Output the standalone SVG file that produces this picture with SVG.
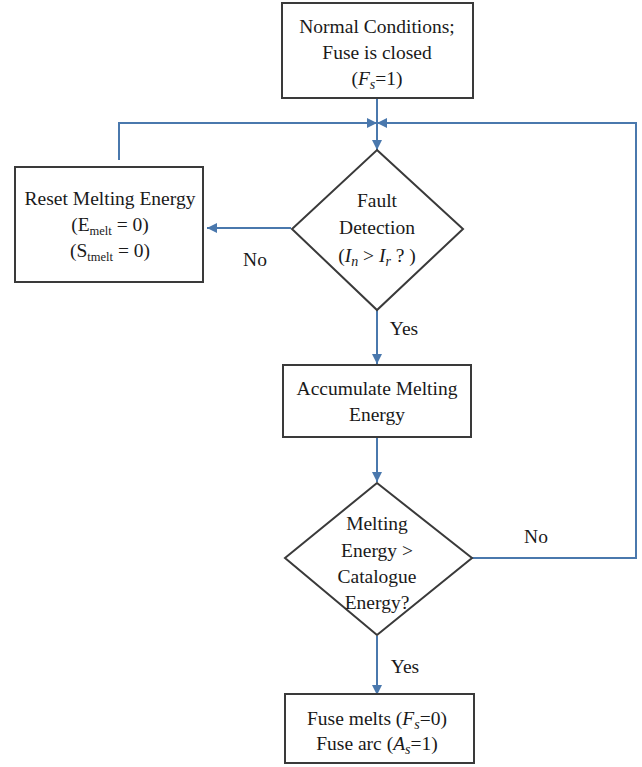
<svg xmlns="http://www.w3.org/2000/svg" width="642" height="767" viewBox="0 0 642 767">
<style>
.box{fill:#fff;stroke:#3a3a3a;stroke-width:2}
.ln{fill:none;stroke:#4a78ad;stroke-width:2}
text{font-family:"Liberation Serif","Times New Roman",serif;font-size:19.5px;fill:#1a1a1a;text-anchor:middle}
.sub{font-size:12.5px}
.isub{font-size:14px;font-style:italic}
.it{font-style:italic}
</style>
<defs>
<marker id="ah" viewBox="0 0 10 10" refX="10" refY="5" markerWidth="5" markerHeight="5" orient="auto" markerUnits="strokeWidth">
<path d="M0,0 L10,5 L0,10 z" fill="#4a78ad"/>
</marker>
</defs>
<rect width="642" height="767" fill="#fff"/>
<g id="connectors">
<path class="ln" d="M377,98 V150" marker-end="url(#ah)"/>
<path class="ln" d="M119,160 V123 H377" marker-end="url(#ah)"/>
<path class="ln" d="M472,558 H636 V123 H377" marker-end="url(#ah)"/>
<path class="ln" d="M291,228 H207" marker-end="url(#ah)"/>
<path class="ln" d="M377,310 V364" marker-end="url(#ah)"/>
<path class="ln" d="M377,437 V482" marker-end="url(#ah)"/>
<path class="ln" d="M377,636 V695" marker-end="url(#ah)"/>
<text x="255" y="266">No</text>
<text x="404" y="335">Yes</text>
<text x="536" y="543">No</text>
<text x="405" y="673">Yes</text>
</g>
<g id="start">
<rect class="box" x="282" y="3" width="191" height="95"/>
<text x="377" y="33">Normal Conditions;</text>
<text x="377" y="59">Fuse is closed</text>
<text x="377" y="85">(<tspan class="it">F</tspan><tspan class="isub" dy="4">s</tspan><tspan dy="-4">=1)</tspan></text>
</g>
<g id="reset">
<rect class="box" x="15" y="167" width="188" height="115"/>
<text x="110" y="205">Reset Melting Energy</text>
<text x="110" y="231">(E<tspan class="sub" dy="4">melt</tspan><tspan dy="-4"> = 0)</tspan></text>
<text x="110" y="257">(S<tspan class="sub" dy="4">tmelt</tspan><tspan dy="-4"> = 0)</tspan></text>
</g>
<g id="fault">
<polygon class="box" points="377,150 463,229 377,310 292,229"/>
<text x="377" y="207">Fault</text>
<text x="377" y="234">Detection</text>
<text x="377" y="262">(<tspan class="it">I</tspan><tspan class="isub" dy="4">n</tspan><tspan dy="-4"> &gt; </tspan><tspan class="it">I</tspan><tspan class="isub" dy="4">r</tspan><tspan dy="-4"> ? )</tspan></text>
</g>
<g id="accumulate">
<rect class="box" x="283" y="365" width="188" height="72"/>
<text x="377" y="395">Accumulate  Melting</text>
<text x="377" y="421">Energy</text>
</g>
<g id="compare">
<polygon class="box" points="377,483 472,558 377,635 285,558"/>
<text x="377" y="530">Melting</text>
<text x="377" y="557">Energy  &gt;</text>
<text x="377" y="583">Catalogue</text>
<text x="377" y="609">Energy?</text>
</g>
<g id="melt">
<rect class="box" x="285" y="694" width="189" height="69"/>
<text x="377" y="725">Fuse melts (<tspan class="it">F</tspan><tspan class="isub" dy="4">s</tspan><tspan dy="-4">=0)</tspan></text>
<text x="377" y="750">Fuse arc  (<tspan class="it">A</tspan><tspan class="isub" dy="4">s</tspan><tspan dy="-4">=1)</tspan></text>
</g>
</svg>
